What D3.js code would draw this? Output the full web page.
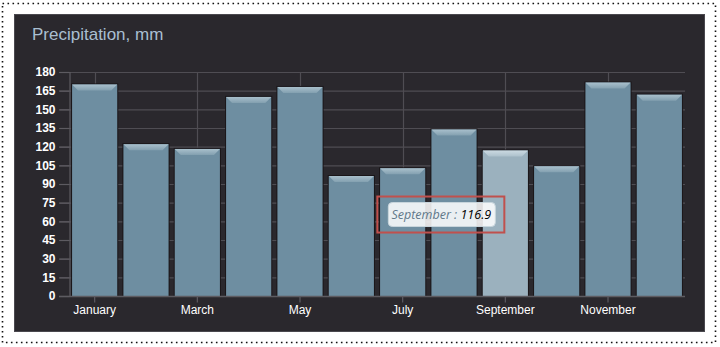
<!DOCTYPE html>
<html>
<head>
<meta charset="utf-8">
<script src="https://cdn.jsdelivr.net/npm/d3@7"></script>
<style>
  html, body { margin: 0; padding: 0; background: #ffffff; }
  svg { display: block; }
</style>
</head>
<body>
<svg id="chart" width="720" height="347"></svg>
<script>
// Monthly precipitation, mm
const months = ["January", "February", "March", "April", "May", "June",
                "July", "August", "September", "October", "November", "December"];
const precipitation = [170.0, 122.0, 118.2, 160.0, 168.0, 96.4, 102.6, 133.8, 116.9, 104.2, 171.5, 161.8];
const yTicks = [0, 15, 30, 45, 60, 75, 90, 105, 120, 135, 150, 165, 180];
const labelledMonths = ["January", "March", "May", "July", "September", "November"];
const highlighted = "September";

const svg = d3.select("#chart");
const defs = svg.append("defs");

// Page frame: dotted outline and dark panel
svg.append("rect")
  .attr("x", 2.5).attr("y", 3.5).attr("width", 713).attr("height", 339)
  .attr("fill", "none").attr("stroke", "#111").attr("stroke-width", 1.6)
  .attr("stroke-dasharray", "1.6 3.4");
svg.append("rect")
  .attr("x", 14.5).attr("y", 14.5).attr("width", 690).attr("height", 317)
  .attr("fill", "#2a282d").attr("stroke", "#4a484e").attr("stroke-width", 1);

svg.append("text")
  .attr("x", 32).attr("y", 40)
  .attr("fill", "#a9bfd1")
  .attr("font-family", "Liberation Sans, Arial, sans-serif")
  .attr("font-size", 17)
  .text("Precipitation, mm");

const plot = { left: 69, right: 685, top: 72, bottom: 296 };

const x = d3.scaleBand().domain(months)
  .range([plot.left, plot.right]).paddingInner(0.12).paddingOuter(0.06);
const y = d3.scaleLinear().domain([0, 180]).range([plot.bottom, plot.top]);

// Horizontal grid lines
svg.append("g").selectAll("line").data(yTicks.slice(1)).join("line")
  .attr("x1", plot.left - 10).attr("x2", plot.right)
  .attr("y1", d => y(d) + 0.5).attr("y2", d => y(d) + 0.5)
  .attr("stroke", "#4f4d53").attr("stroke-width", 1.2);

// Vertical grid lines at labelled months
const xc = m => x(m) + x.bandwidth() / 2;
svg.append("g").selectAll("line").data(labelledMonths).join("line")
  .attr("x1", d => Math.round(xc(d)) + 0.5).attr("x2", d => Math.round(xc(d)) + 0.5)
  .attr("y1", plot.top).attr("y2", plot.bottom)
  .attr("stroke", "#4f4d53").attr("stroke-width", 1.2);

// Y axis
const yAxis = svg.append("g")
  .attr("transform", `translate(${plot.left + 0.5},0)`)
  .call(d3.axisLeft(y).tickValues(yTicks).tickSize(10).tickPadding(4));
yAxis.select(".domain").attr("stroke", "#5d5b61").attr("stroke-width", 1.2);
yAxis.selectAll(".tick line").attr("stroke", "#5d5b61").attr("stroke-width", 1.2);
yAxis.selectAll(".tick text")
  .attr("fill", "#ffffff")
  .attr("font-family", "Liberation Sans, Arial, sans-serif")
  .attr("font-weight", "bold")
  .attr("font-size", 12);

// Bar shading
function barGradient(id, c0, c1) {
  const g = defs.append("linearGradient").attr("id", id)
    .attr("x1", 0).attr("x2", 0).attr("y1", 0).attr("y2", 1);
  g.append("stop").attr("offset", "0%").attr("stop-color", c0);
  g.append("stop").attr("offset", "100%").attr("stop-color", c1);
}
barGradient("bevelNormal", "#a9c0cc", "#83a0b0");
barGradient("bevelHigh", "#cbd9e1", "#adc1cc");

const bevel = 6;
const bars = svg.append("g").selectAll("g").data(months).join("g");

// dark outline behind each bar
bars.append("rect")
  .attr("x", d => x(d) - 1)
  .attr("y", (d, i) => y(precipitation[i]) - 1)
  .attr("width", x.bandwidth() + 2)
  .attr("height", (d, i) => plot.bottom - y(precipitation[i]) + 1)
  .attr("fill", "#1a1619");

bars.append("rect")
  .attr("x", d => x(d))
  .attr("y", (d, i) => y(precipitation[i]))
  .attr("width", x.bandwidth())
  .attr("height", (d, i) => plot.bottom - y(precipitation[i]))
  .attr("fill", d => d === highlighted ? "#9bb1be" : "#6e8ea1");

// bevelled top edge
bars.append("path")
  .attr("d", (d, i) => {
    const x0 = x(d), x1 = x(d) + x.bandwidth(), t = y(precipitation[i]);
    return `M${x0},${t}L${x1},${t}L${x1 - bevel},${t + bevel}L${x0 + bevel},${t + bevel}Z`;
  })
  .attr("fill", d => d === highlighted ? "url(#bevelHigh)" : "url(#bevelNormal)");

// X axis
const xAxis = svg.append("g")
  .attr("transform", `translate(0,${plot.bottom + 0.5})`)
  .call(d3.axisBottom(x).tickValues(labelledMonths).tickSize(6).tickPadding(3).tickSizeOuter(0));
xAxis.select(".domain").attr("stroke", "#5d5b61").attr("stroke-width", 1.5)
  .attr("d", `M${plot.left - 10},0H${plot.right}`);
xAxis.selectAll(".tick line").attr("stroke", "#5d5b61").attr("stroke-width", 1.2);
xAxis.selectAll(".tick text")
  .attr("fill", "#ffffff")
  .attr("font-family", "Liberation Sans Narrow, Arial Narrow, Liberation Sans, sans-serif")
  .attr("font-size", 12);

// Tooltip for the highlighted month
const hi = months.indexOf(highlighted);
const tipCx = xc(highlighted) - 64;
const tipCy = y(precipitation[hi]) + 64;
const tip = svg.append("g").attr("transform", `translate(${tipCx},${tipCy})`);
tip.append("rect")
  .attr("x", -53).attr("y", -12).attr("width", 107).attr("height", 24).attr("rx", 4)
  .attr("fill", "#ffffff").attr("fill-opacity", 0.86)
  .attr("stroke", "#c9d6dd").attr("stroke-width", 1);
const tipText = tip.append("text")
  .attr("x", 0).attr("y", 4.5)
  .attr("text-anchor", "middle")
  .attr("font-family", "Open Sans, Noto Sans, sans-serif")
  .attr("font-style", "italic")
  .attr("font-size", 12.5);
tipText.append("tspan").attr("fill", "#60788a").text(highlighted + " : ");
tipText.append("tspan").attr("fill", "#000000")
  .text(d3.format(".1f")(precipitation[hi]));
tip.append("rect")
  .attr("x", -64).attr("y", -18).attr("width", 127).attr("height", 36)
  .attr("fill", "none").attr("stroke", "#c0504d").attr("stroke-width", 2);
</script>
</body>
</html>
